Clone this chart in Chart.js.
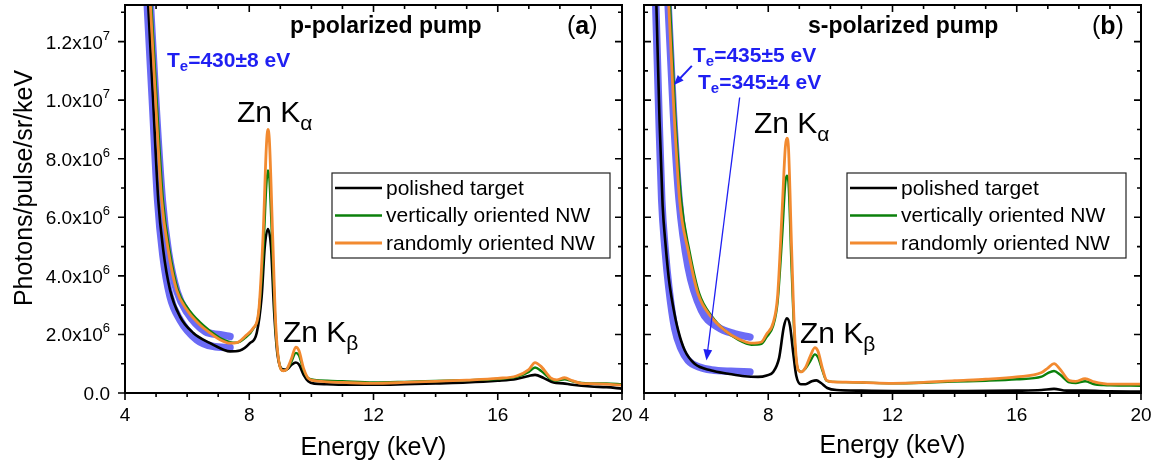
<!DOCTYPE html>
<html>
<head>
<meta charset="utf-8">
<script src="https://cdn.jsdelivr.net/npm/chart.js@4.4.1/dist/chart.umd.min.js"></script>
<style>
  body { margin: 0; background: #fff; }
  #wrap { position: relative; width: 1165px; height: 468px; overflow: hidden; }
  canvas { position: absolute; top: 0; }
</style>
</head>
<body>
<div id="wrap">
  <canvas id="chartA" width="640" height="468" style="left:0"></canvas>
  <canvas id="chartB" width="535" height="468" style="left:630px"></canvas>
</div>
<script>
// ---- data (intensity in units of 10^6 photons/pulse/sr/keV) ----
const seriesLabels = ['polished target', 'vertically oriented NW', 'randomly oriented NW'];

// (a) p-polarized pump
const ePolishedA = [4.6, 4.75, 4.9, 5.07, 5.23, 5.45, 5.77, 6.2, 6.74, 7.17, 7.38, 7.7, 8.02, 8.24, 8.4, 8.5, 8.6, 8.7, 8.8, 8.9, 9.05, 9.2, 9.35, 9.5, 9.6, 9.75, 9.9, 10.1, 10.5, 11, 12, 13, 14, 15, 16, 16.6, 17.0, 17.2, 17.5, 17.8, 18.1, 18.4, 19, 19.5, 20];
const polishedA = [17, 13.2, 10.1, 6.6, 4.89, 3.52, 2.61, 2.05, 1.7, 1.48, 1.42, 1.45, 1.7, 2.05, 3.3, 5.0, 5.6, 5.0, 2.8, 1.4, 0.82, 0.8, 0.95, 1.04, 0.97, 0.62, 0.4, 0.32, 0.3, 0.28, 0.28, 0.3, 0.33, 0.36, 0.42, 0.48, 0.58, 0.62, 0.5, 0.36, 0.33, 0.28, 0.22, 0.2, 0.15];
const eVerticalA = [4.68, 4.85, 5.03, 5.22, 5.43, 5.7, 6.02, 6.41, 6.74, 7.06, 7.38, 7.6, 7.86, 8.13, 8.3, 8.45, 8.55, 8.6, 8.65, 8.75, 8.85, 8.95, 9.1, 9.2, 9.35, 9.5, 9.6, 9.75, 9.9, 10.1, 10.5, 11, 12, 13, 14, 15, 16, 16.6, 17.0, 17.2, 17.4, 17.7, 17.9, 18.15, 18.4, 18.7, 19, 19.5, 20];
const verticalA = [17, 13.2, 9.8, 6.6, 4.89, 3.52, 2.9, 2.42, 2.12, 1.88, 1.74, 1.72, 1.88, 2.2, 2.7, 4.8, 7.1, 7.6, 7.3, 4.8, 2.2, 1.1, 0.76, 0.8, 1.05, 1.37, 1.28, 0.78, 0.5, 0.45, 0.42, 0.4, 0.36, 0.38, 0.41, 0.44, 0.48, 0.55, 0.72, 0.87, 0.75, 0.48, 0.42, 0.47, 0.4, 0.34, 0.33, 0.33, 0.3];
const eRandomA = [4.65, 4.82, 5.0, 5.18, 5.39, 5.66, 5.99, 6.41, 6.74, 7.06, 7.38, 7.6, 7.86, 8.13, 8.3, 8.45, 8.55, 8.6, 8.65, 8.75, 8.85, 8.95, 9.1, 9.2, 9.35, 9.5, 9.6, 9.75, 9.9, 10.1, 10.5, 11, 12, 13, 14, 15, 16, 16.6, 17.0, 17.2, 17.4, 17.7, 17.9, 18.15, 18.4, 18.7, 19, 19.5, 20];
const randomA = [17, 13.2, 9.7, 6.6, 4.89, 3.52, 2.84, 2.33, 2.05, 1.82, 1.7, 1.72, 1.93, 2.22, 2.75, 5.5, 8.4, 9.0, 8.6, 5.5, 2.4, 1.1, 0.76, 0.8, 1.15, 1.57, 1.45, 0.84, 0.5, 0.42, 0.38, 0.36, 0.33, 0.36, 0.4, 0.44, 0.5, 0.58, 0.8, 1.04, 0.9, 0.52, 0.45, 0.52, 0.42, 0.33, 0.32, 0.3, 0.27];
const eFitA1 = [4.55, 4.72, 4.88, 5.05, 5.22, 5.45, 5.77, 6.31, 6.84, 7.38];
const fitA1 = [17, 13.2, 10, 6.6, 4.7, 3.3, 2.5, 1.82, 1.59, 1.55];
const eFitA2 = [4.65, 4.82, 5.0, 5.2, 5.4, 5.68, 6.0, 6.58, 7.06, 7.38];
const fitA2 = [17, 13.2, 9.8, 6.6, 4.8, 3.45, 2.75, 2.1, 1.99, 1.93];

// (b) s-polarized pump
const ePolishedB = [4.25, 4.4, 4.5, 4.6, 4.7, 4.8, 4.93, 5.1, 5.31, 5.63, 6.17, 6.71, 7.24, 7.67, 7.95, 8.16, 8.35, 8.5, 8.6, 8.7, 8.8, 8.9, 9.05, 9.2, 9.4, 9.55, 9.7, 9.9, 10.2, 11, 12, 14, 16, 16.8, 17.2, 17.6, 18.2, 19, 20];
const polishedB = [18, 13.2, 9.3, 6.4, 5.0, 3.9, 3.0, 2.14, 1.46, 1.0, 0.77, 0.66, 0.57, 0.55, 0.6, 0.72, 1.2, 2.25, 2.55, 2.3, 1.4, 0.6, 0.3, 0.3, 0.4, 0.43, 0.34, 0.17, 0.1, 0.08, 0.07, 0.07, 0.08, 0.1, 0.14, 0.08, 0.08, 0.06, 0.05];
const eVerticalB = [4.68, 4.84, 5.0, 5.2, 5.46, 5.78, 6.2, 6.6, 7.03, 7.46, 7.78, 7.94, 8.16, 8.3, 8.45, 8.55, 8.6, 8.65, 8.75, 8.85, 8.96, 9.07, 9.2, 9.35, 9.5, 9.6, 9.75, 9.88, 10.1, 10.5, 11, 12, 13, 14, 15, 16, 16.8, 17.0, 17.2, 17.4, 17.7, 17.9, 18.2, 18.5, 18.8, 19, 20];
const verticalB = [17, 13.2, 9.6, 6.56, 4.87, 3.39, 2.6, 2.14, 1.82, 1.65, 1.68, 1.9, 2.3, 3.1, 5.4, 7.2, 7.42, 7.2, 4.3, 1.8, 0.8, 0.72, 0.84, 1.08, 1.32, 1.22, 0.75, 0.42, 0.38, 0.37, 0.36, 0.33, 0.35, 0.39, 0.42, 0.47, 0.56, 0.68, 0.75, 0.62, 0.36, 0.34, 0.4, 0.3, 0.27, 0.26, 0.25];
const eRandomB = [4.65, 4.8, 4.95, 5.15, 5.42, 5.74, 6.17, 6.6, 7.03, 7.46, 7.78, 7.94, 8.16, 8.3, 8.45, 8.55, 8.6, 8.65, 8.75, 8.85, 8.96, 9.07, 9.2, 9.35, 9.5, 9.6, 9.75, 9.88, 10.1, 10.5, 11, 12, 13, 14, 15, 16, 16.8, 17.0, 17.2, 17.4, 17.7, 17.9, 18.2, 18.5, 18.8, 19, 20];
const randomB = [17, 13.2, 9.9, 6.56, 4.87, 3.39, 2.59, 2.14, 1.85, 1.7, 1.74, 2.0, 2.4, 3.3, 6.3, 8.4, 8.7, 8.4, 5.0, 2.0, 0.8, 0.72, 0.87, 1.25, 1.55, 1.43, 0.82, 0.43, 0.38, 0.37, 0.36, 0.33, 0.36, 0.42, 0.47, 0.55, 0.7, 0.85, 1.0, 0.8, 0.42, 0.4, 0.49, 0.38, 0.32, 0.3, 0.3];
const eFitB1 = [4.25, 4.38, 4.48, 4.57, 4.68, 4.8, 4.99, 5.2, 5.42, 5.8, 6.17, 6.8, 7.41];
const fitB1 = [17, 13.2, 9.5, 6.6, 4.9, 3.6, 2.2, 1.5, 1.11, 0.88, 0.79, 0.74, 0.72];
const eFitB2 = [4.65, 4.78, 4.95, 5.13, 5.42, 5.85, 6.38, 6.92, 7.41];
const fitB2 = [17, 13.2, 9.5, 6.6, 4.3, 2.82, 2.25, 2.02, 1.91];

// axes / ticks
const xMajorTicks = [4, 8, 12, 16, 20];
const yMajorTicks = [0, 2, 4, 6, 8, 10, 12];
const yTickMantissa = ['0.0', '2.0', '4.0', '6.0', '8.0', '1.0', '1.2'];
const yTickExponent = ['', '6', '6', '6', '6', '7', '7'];

const FONT = 'Arial, "Liberation Sans", sans-serif';
const COLORS = { polished: '#000000', vertical: '#0b800b', random: '#f28a30', fit: '#6b6bf5', note: '#1f1ff2' };

function pts(xs, ys) {
    return xs.map((x, i) => ({ x: x, y: ys[i] }));
}

function line(label, xs, ys, color, width, order) {
    return {
        label: label,
        data: pts(xs, ys),
        borderColor: color,
        borderWidth: width,
        borderCapStyle: 'round',
        borderJoinStyle: 'round',
        pointRadius: 0,
        cubicInterpolationMode: 'monotone',
        fill: false,
        clip: 0,
        order: order
    };
}

function drawFrame(chart, cfg) {
    const { ctx, chartArea: a, scales: { x, y } } = chart;
    ctx.save();
    ctx.strokeStyle = '#000';
    ctx.lineWidth = 2;
    ctx.strokeRect(a.left, a.top, a.right - a.left, a.bottom - a.top);
    ctx.lineWidth = 1.6;
    ctx.beginPath();
    for (let v = 4; v <= 20; v++) {
        const px = x.getPixelForValue(v);
        const len = xMajorTicks.includes(v) ? 7 : 4;
        ctx.moveTo(px, a.bottom); ctx.lineTo(px, a.bottom + len);
        ctx.moveTo(px, a.top); ctx.lineTo(px, a.top + len);
    }
    for (let v = 0; v <= 13; v++) {
        const py = y.getPixelForValue(v);
        const len = yMajorTicks.includes(v) ? 7 : 4;
        const dir = cfg.leftTicksOut ? -1 : 1;
        ctx.moveTo(a.left, py); ctx.lineTo(a.left + dir * len, py);
        ctx.moveTo(a.right, py); ctx.lineTo(a.right - len, py);
    }
    ctx.stroke();

    // tick labels
    ctx.fillStyle = '#000';
    ctx.font = '19px ' + FONT;
    ctx.textAlign = 'center';
    ctx.textBaseline = 'alphabetic';
    xMajorTicks.forEach(v => ctx.fillText(String(v), x.getPixelForValue(v), a.bottom + 28));
    if (cfg.yLabels) {
        ctx.textAlign = 'left';
        yMajorTicks.forEach((v, i) => {
            const py = y.getPixelForValue(v);
            const right = a.left - 15;
            const mant = yTickMantissa[i] + (yTickExponent[i] ? 'x10' : '');
            ctx.font = '19px ' + FONT;
            const mw = ctx.measureText(mant).width;
            ctx.font = '13px ' + FONT;
            const ew = yTickExponent[i] ? ctx.measureText(yTickExponent[i]).width : 0;
            ctx.font = '19px ' + FONT;
            ctx.fillText(mant, right - ew - mw, py + 7);
            if (ew) {
                ctx.font = '13px ' + FONT;
                ctx.fillText(yTickExponent[i], right - ew, py - 2);
            }
        });
        // y title
        ctx.save();
        ctx.translate(32, 188);
        ctx.rotate(-Math.PI / 2);
        ctx.textAlign = 'center';
        ctx.font = '25px ' + FONT;
        ctx.fillText('Photons/pulse/sr/keV', 0, 0);
        ctx.restore();
    }
    ctx.textAlign = 'center';
    ctx.font = '25px ' + FONT;
    ctx.fillText('Energy (keV)', (a.left + a.right) / 2, cfg.xTitleY);
    ctx.restore();
}

function drawLegend(chart, box) {
    const ctx = chart.ctx;
    ctx.save();
    ctx.fillStyle = '#fff';
    ctx.fillRect(box.x, box.y, box.w, box.h);
    ctx.strokeStyle = '#222';
    ctx.lineWidth = 1.2;
    ctx.strokeRect(box.x, box.y, box.w, box.h);
    ctx.font = '21px ' + FONT;
    ctx.textAlign = 'left';
    ctx.textBaseline = 'middle';
    chart.data.datasets.slice(0, 3).forEach((ds, i) => {
        const yy = box.y + 15 + i * 27.5;
        ctx.strokeStyle = ds.borderColor;
        ctx.lineWidth = ds.borderWidth;
        ctx.beginPath();
        ctx.moveTo(box.x + 3, yy);
        ctx.lineTo(box.x + 50, yy);
        ctx.stroke();
        ctx.fillStyle = '#000';
        ctx.fillText(ds.label, box.x + 54, yy + 1);
    });
    ctx.restore();
}

function drawTe(ctx, x, base, rest) {
    ctx.save();
    ctx.fillStyle = COLORS.note;
    ctx.textAlign = 'left';
    ctx.textBaseline = 'alphabetic';
    ctx.font = 'bold 21px ' + FONT;
    ctx.fillText('T', x, base);
    let cx = x + ctx.measureText('T').width;
    ctx.font = 'bold 15px ' + FONT;
    ctx.fillText('e', cx, base + 4);
    cx += ctx.measureText('e').width;
    ctx.font = 'bold 21px ' + FONT;
    ctx.fillText(rest, cx, base);
    ctx.restore();
}

function drawZn(ctx, x, base, sub) {
    ctx.save();
    ctx.fillStyle = '#000';
    ctx.textAlign = 'left';
    ctx.textBaseline = 'alphabetic';
    ctx.font = '30px ' + FONT;
    ctx.fillText('Zn K', x, base);
    const w = ctx.measureText('Zn K').width;
    ctx.font = '21px ' + FONT;
    ctx.fillText(sub, x + w, base + 8);
    ctx.restore();
}

function drawTitle(ctx, x, base, text, letterX, letter) {
    ctx.save();
    ctx.fillStyle = '#000';
    ctx.textAlign = 'left';
    ctx.textBaseline = 'alphabetic';
    ctx.font = 'bold 23px ' + FONT;
    ctx.fillText(text, x, base);
    ctx.font = '25px ' + FONT;
    ctx.fillText('(', letterX, base + 1);
    let cx = letterX + ctx.measureText('(').width;
    ctx.font = 'bold 25px ' + FONT;
    ctx.fillText(letter, cx, base + 1);
    cx += ctx.measureText(letter).width;
    ctx.font = '25px ' + FONT;
    ctx.fillText(')', cx, base + 1);
    ctx.restore();
}

function arrow(chart, x0, y0, x1, y1, width, head) {
    const { ctx, scales: { x, y } } = chart;
    const ax = x.getPixelForValue(x0), ay = y.getPixelForValue(y0);
    const bx = x.getPixelForValue(x1), by = y.getPixelForValue(y1);
    const ang = Math.atan2(by - ay, bx - ax);
    ctx.save();
    ctx.strokeStyle = COLORS.note;
    ctx.fillStyle = COLORS.note;
    ctx.lineWidth = width;
    ctx.beginPath();
    ctx.moveTo(ax, ay);
    ctx.lineTo(bx - Math.cos(ang) * head * 0.8, by - Math.sin(ang) * head * 0.8);
    ctx.stroke();
    ctx.beginPath();
    ctx.moveTo(bx, by);
    ctx.lineTo(bx - head * Math.cos(ang) + head * 0.4 * Math.sin(ang), by - head * Math.sin(ang) - head * 0.4 * Math.cos(ang));
    ctx.lineTo(bx - head * Math.cos(ang) - head * 0.4 * Math.sin(ang), by - head * Math.sin(ang) + head * 0.4 * Math.cos(ang));
    ctx.closePath();
    ctx.fill();
    ctx.restore();
}

function panelPlugin(cfg) {
    return {
        id: 'panel' + cfg.name,
        afterDatasetsDraw(chart) {
            const ctx = chart.ctx;
            drawFrame(chart, cfg);
            drawLegend(chart, cfg.legend);
            drawTitle(ctx, cfg.title.x, 33, cfg.title.text, cfg.title.letterX, cfg.title.letter);
            cfg.zn.forEach(z => drawZn(ctx, z.x, z.base, z.sub));
            cfg.te.forEach(t => drawTe(ctx, t.x, t.base, t.text));
            cfg.arrows.forEach(r => arrow(chart, r[0], r[1], r[2], r[3], r[4], r[5]));
        }
    };
}

function makeChart(id, datasets, padding, cfg) {
    return new Chart(document.getElementById(id), {
        type: 'line',
        data: { datasets: datasets },
        options: {
            responsive: false,
            animation: false,
            devicePixelRatio: 1,
            events: [],
            layout: { padding: padding },
            scales: {
                x: { type: 'linear', min: 4, max: 20, display: false },
                y: { type: 'linear', min: 0, max: 13.25, display: false }
            },
            plugins: { legend: { display: false }, tooltip: { enabled: false } }
        },
        plugins: [panelPlugin(cfg)]
    });
}

makeChart('chartA', [
    line(seriesLabels[0], ePolishedA, polishedA, COLORS.polished, 2.6, 2),
    line(seriesLabels[1], eVerticalA, verticalA, COLORS.vertical, 2.4, 1),
    line(seriesLabels[2], eRandomA, randomA, COLORS.random, 2.8, 0),
    line('fit', eFitA1, fitA1, COLORS.fit, 7.5, 3),
    line('fit', eFitA2, fitA2, COLORS.fit, 7.5, 3)
], { left: 125, right: 18, top: 5, bottom: 75 }, {
    name: 'A',
    leftTicksOut: true,
    yLabels: true,
    xTitleY: 455,
    legend: { x: 332, y: 173, w: 278, h: 85 },
    title: { x: 290, text: 'p-polarized pump', letterX: 567, letter: 'a' },
    zn: [{ x: 237, base: 122, sub: 'α' }, { x: 283, base: 342, sub: 'β' }],
    te: [{ x: 167, base: 67, text: '=430±8 eV' }],
    arrows: []
});

makeChart('chartB', [
    line(seriesLabels[0], ePolishedB, polishedB, COLORS.polished, 2.6, 2),
    line(seriesLabels[1], eVerticalB, verticalB, COLORS.vertical, 2.4, 1),
    line(seriesLabels[2], eRandomB, randomB, COLORS.random, 2.8, 0),
    line('fit', eFitB1, fitB1, COLORS.fit, 7.5, 3),
    line('fit', eFitB2, fitB2, COLORS.fit, 7.5, 3)
], { left: 14, right: 24, top: 5, bottom: 75 }, {
    name: 'B',
    leftTicksOut: false,
    yLabels: false,
    xTitleY: 453,
    legend: { x: 217, y: 173, w: 279, h: 85 },
    title: { x: 178, text: 's-polarized pump', letterX: 462, letter: 'b' },
    zn: [{ x: 124, base: 133, sub: 'α' }, { x: 170, base: 343, sub: 'β' }],
    te: [{ x: 63, base: 62, text: '=435±5 eV' }, { x: 68, base: 89, text: '=345±4 eV' }],
    arrows: [[5.54, 11.17, 4.96, 10.52, 2, 10], [7.08, 10.09, 6.01, 1.11, 1.3, 11]]
});
</script>
</body>
</html>
